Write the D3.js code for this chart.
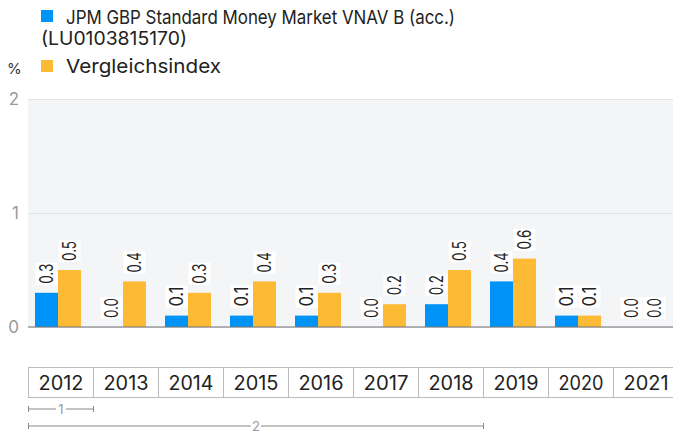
<!DOCTYPE html>
<html lang="de">
<head>
<meta charset="UTF-8">
<title>JPM GBP Standard Money Market VNAV B (acc.)</title>
<script src="https://d3js.org/d3.v7.min.js"></script>
<style>
  body { margin: 0; background: #fff; font-family: Inter, "Liberation Sans", sans-serif; }
  svg text { font-family: Inter, "Liberation Sans", sans-serif; }
</style>
</head>
<body>
<svg id="chart" width="673" height="432"></svg>
<script>
// data
const years = ["2012","2013","2014","2015","2016","2017","2018","2019","2020","2021"];
const fundValues = [0.3, 0.0, 0.1, 0.1, 0.1, 0.0, 0.2, 0.4, 0.1, 0.0];
const indexValues = [0.5, 0.4, 0.3, 0.4, 0.3, 0.2, 0.5, 0.6, 0.1, 0.0];
const seriesNames = ["JPM GBP Standard Money Market VNAV B (acc.)", "Vergleichsindex"];
const yTicks = [0, 1, 2];
const periods = [{label: "1", years: 1}, {label: "2", years: 7}];

const colors = ["#0093f7", "#fdba35"];
const svg = d3.select("#chart");
const plotL = 28, plotR = 673, plotT = 99, plotB = 327;

// one column per year, 65px each (last one runs past the right edge)
const x = d3.scaleBand().domain(years).range([plotL, plotL + 65 * years.length]);
const xs = d3.scaleBand().domain([0, 1]).range([0, 46]);
const y = d3.scaleLinear().domain([0, 2]).range([plotB, plotT]);

// legend
const legend = svg.append("g").attr("font-size", 19).attr("fill", "#222");
legend.append("rect").attr("x", 41).attr("y", 10).attr("width", 12).attr("height", 12).attr("fill", colors[0]);
legend.append("text").attr("x", 66).attr("y", 24).attr("textLength", 389).attr("lengthAdjust", "spacingAndGlyphs").text(seriesNames[0]);
legend.append("text").attr("x", 41).attr("y", 45).attr("textLength", 146).attr("lengthAdjust", "spacingAndGlyphs").text("(LU0103815170)");
legend.append("rect").attr("x", 41).attr("y", 60).attr("width", 12).attr("height", 12).attr("fill", colors[1]);
legend.append("text").attr("x", 66).attr("y", 73).attr("textLength", 155).attr("lengthAdjust", "spacingAndGlyphs").text(seriesNames[1]);
svg.append("text").attr("x", 7).attr("y", 74).attr("font-size", 15).attr("fill", "#333").text("%");

// plot background
svg.append("rect").attr("x", plotL).attr("y", plotT).attr("width", plotR - plotL).attr("height", plotB - plotT).attr("fill", "#f4f5f7");

// grid and y labels
const yAxis = svg.append("g").attr("transform", `translate(${plotL},0)`)
  .call(d3.axisLeft(y).tickValues(yTicks).tickSize(-(plotR - plotL)).tickFormat(d3.format("d")).tickPadding(9));
yAxis.select(".domain").remove();
yAxis.selectAll(".tick line").attr("stroke", "#e2e3e6");
yAxis.selectAll(".tick text").attr("font-size", 17).attr("fill", "#999").attr("dy", "0.35em");

// bars
const groups = svg.append("g").selectAll("g").data(years).join("g")
  .attr("transform", d => `translate(${x(d) + 7},0)`);

[fundValues, indexValues].forEach((vals, s) => {
  groups.append("rect")
    .attr("x", xs(s))
    .attr("y", (d, i) => y(vals[i]))
    .attr("width", xs.bandwidth())
    .attr("height", (d, i) => plotB - y(vals[i]))
    .attr("fill", colors[s]);

  const lab = groups.append("g")
    .attr("transform", (d, i) => `translate(${xs(s) + xs.bandwidth() / 2},${y(vals[i]) - 8}) rotate(-90)`);
  lab.append("rect").attr("x", 0).attr("y", -11).attr("width", 22).attr("height", 22).attr("fill", "#fff");
  lab.append("text").attr("x", 1).attr("dy", "0.36em").attr("font-size", 18).attr("fill", "#222")
    .attr("textLength", 20).attr("lengthAdjust", "spacingAndGlyphs")
    .text((d, i) => vals[i].toFixed(1));
});

// baseline
svg.append("line").attr("x1", plotL).attr("x2", plotR).attr("y1", plotB).attr("y2", plotB)
  .attr("stroke", "#777").attr("stroke-width", 1.2);

// year table
const tbl = svg.append("g");
tbl.selectAll("rect").data(years).join("rect")
  .attr("x", d => x(d) + 0.5).attr("y", 367.5)
  .attr("width", x.bandwidth()).attr("height", 30)
  .attr("fill", "none").attr("stroke", "#bbb");
tbl.selectAll("text").data(years).join("text")
  .attr("x", d => x(d) + x.bandwidth() / 2 + 0.5).attr("y", 390)
  .attr("text-anchor", "middle").attr("font-size", 19.5).attr("fill", "#222")
  .attr("textLength", 45).attr("lengthAdjust", "spacingAndGlyphs").text(d => d);

// period markers
periods.forEach((p, i) => {
  const yy = 409 + i * 17;
  const x0 = plotL + 0.5, x1 = x(years[p.years - 1]) + x.bandwidth() + 0.5, xm = (x0 + x1) / 2;
  const g = svg.append("g").attr("stroke", "#888").attr("stroke-width", 1);
  g.append("line").attr("x1", x0).attr("x2", xm - 5).attr("y1", yy).attr("y2", yy);
  g.append("line").attr("x1", xm + 5).attr("x2", x1).attr("y1", yy).attr("y2", yy);
  g.append("line").attr("x1", x0).attr("x2", x0).attr("y1", yy - 3).attr("y2", yy + 3);
  g.append("line").attr("x1", x1).attr("x2", x1).attr("y1", yy - 3).attr("y2", yy + 3);
  svg.append("text").attr("x", xm).attr("y", yy + 4.5).attr("text-anchor", "middle")
    .attr("font-size", 13).attr("fill", "#999").text(p.label);
});
</script>
</body>
</html>
